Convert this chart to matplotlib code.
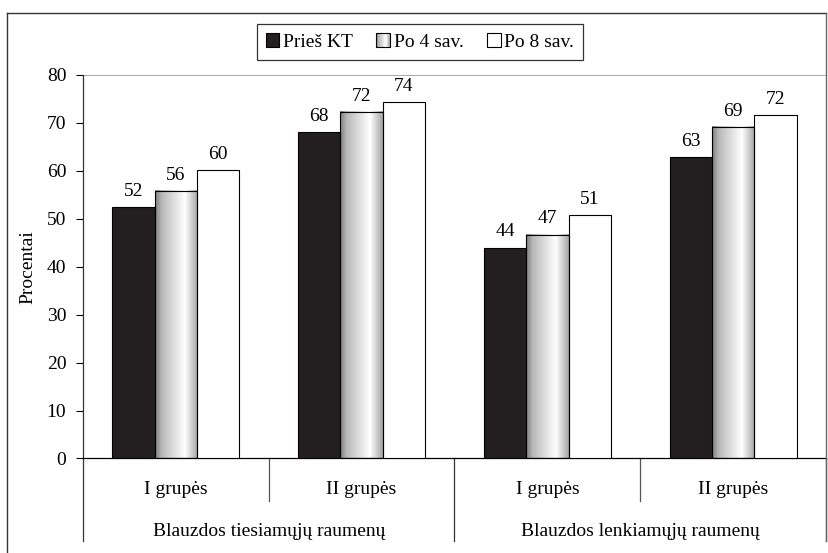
import matplotlib.pyplot as plt
import matplotlib.transforms as mtransforms
from matplotlib.patches import Rectangle
from matplotlib.lines import Line2D
from matplotlib.legend_handler import HandlerBase
import numpy as np

plt.rcParams['font.family'] = ['Liberation Serif', 'DejaVu Serif']

groups = ['I grupės', 'II grupės', 'I grupės', 'II grupės']
muscles = ['Blauzdos tiesiamųjų raumenų', 'Blauzdos lenkiamųjų raumenų']
series = ['Prieš KT', 'Po 4 sav.', 'Po 8 sav.']
pries_kt = [52.4, 68.1, 44.0, 62.9]
po_4 = [55.7, 72.3, 46.7, 69.2]
po_8 = [60.2, 74.4, 50.8, 71.6]

FS = 14

# horizontal shading of the middle bars (dark edge -> white -> grey)
shade = np.interp(np.linspace(0, 1, 64), [0, 0.15, 0.7, 1], [0.5, 0.72, 1.0, 0.65])
shade_img = np.tile(shade, (2, 1))


class HandlerGradient(HandlerBase):
    def create_artists(self, legend, orig_handle, xdescent, ydescent,
                       width, height, fontsize, trans):
        artists = []
        n = len(shade)
        for i, v in enumerate(shade):
            r = Rectangle((-xdescent + width * i / n, -ydescent), width / n + 0.3, height,
                          facecolor=(v, v, v), edgecolor='none', transform=trans)
            artists.append(r)
        artists.append(Rectangle((-xdescent, -ydescent), width, height, facecolor='none',
                                 edgecolor='black', lw=0.8, transform=trans))
        return artists


fig = plt.figure(figsize=(8.29, 5.53), dpi=100)
ax = fig.add_axes([0.1001, 0.1709, 0.8963, 0.6935])

x = np.arange(len(groups))
w = 0.228
b1 = ax.bar(x - w, pries_kt, w, color='#231f20', edgecolor='black', lw=0.8, zorder=3)
b3 = ax.bar(x + w, po_8, w, color='white', edgecolor='black', lw=0.8, zorder=3)
b2 = ax.bar(x, po_4, w, color='none', edgecolor='black', lw=0.8, zorder=3)
for xi, v in zip(x, po_4):
    ax.imshow(shade_img, cmap='gray', vmin=0, vmax=1, aspect='auto',
              extent=(xi - w / 2, xi + w / 2, 0, v), zorder=2, interpolation='bilinear')

for bars, vals in [(b1, pries_kt), (b2, po_4), (b3, po_8)]:
    for bar, v in zip(bars, vals):
        ax.text(bar.get_x() + bar.get_width() / 2, v + 1.5, f'{round(v)}',
                ha='center', va='bottom', fontsize=FS, clip_on=False)

ax.set_xlim(-0.5, len(groups) - 0.5)
ax.set_ylim(0, 80)
ax.set_yticks(range(0, 81, 10))
ax.tick_params(axis='y', direction='out', length=5, labelsize=FS, pad=7)
ax.set_xticks([])
ax.set_ylabel('Procentai', fontsize=FS, labelpad=7.5)
for s in ['top', 'right']:
    ax.spines[s].set_visible(False)
ax.spines['left'].set_linewidth(0.9)
ax.spines['left'].set_color('#333333')
ax.spines['bottom'].set_linewidth(0.9)
ax.axhline(80, color='#999999', lw=1.2, zorder=1)

# two-level category axis below the plot
tr = mtransforms.blended_transform_factory(ax.transData, ax.transAxes)
for xs in [0.5, 2.5]:
    ax.plot([xs, xs], [0, -0.111], color='#555555', lw=0.9, transform=tr, clip_on=False)
for xs in [-0.5, 1.5, 3.5]:
    ax.plot([xs, xs], [0, -0.215], color='#333333', lw=0.9, transform=tr, clip_on=False)
for xi, g in zip(x, groups):
    ax.text(xi, -0.08, g, ha='center', va='center', fontsize=FS, transform=tr)
for i, m in enumerate(muscles):
    ax.text(2 * i + 0.5, -0.19, m, ha='center', va='center', fontsize=FS, transform=tr)

handles = [Rectangle((0, 0), 1, 1, facecolor='#231f20', edgecolor='black', lw=0.8),
           Rectangle((0, 0), 1, 1),
           Rectangle((0, 0), 1, 1, facecolor='white', edgecolor='black', lw=0.8)]
leg = fig.legend(handles, series, loc='center', bbox_to_anchor=(0.5066, 0.924), ncol=3,
                 fontsize=FS, frameon=True, fancybox=False, edgecolor='black',
                 handlelength=0.7, handleheight=0.7, handletextpad=0.2, columnspacing=1.2,
                 borderpad=0.45, handler_map={handles[1]: HandlerGradient()})
leg.get_frame().set_linewidth(0.9)

# outer chart frame (left, top, right)
fx0, fx1 = 7 / 829, 826 / 829
fy_top, fy_bot = 1 - 13 / 553, 1 - 541 / 553
fig.add_artist(Line2D([fx0, fx0], [0, fy_top], color='#333333', lw=1.0, transform=fig.transFigure))
fig.add_artist(Line2D([fx0, fx1], [fy_top, fy_top], color='#333333', lw=1.0, transform=fig.transFigure))
fig.add_artist(Line2D([fx1, fx1], [fy_bot, fy_top], color='#666666', lw=1.0, transform=fig.transFigure))

fig.savefig('out.png', dpi=100)
